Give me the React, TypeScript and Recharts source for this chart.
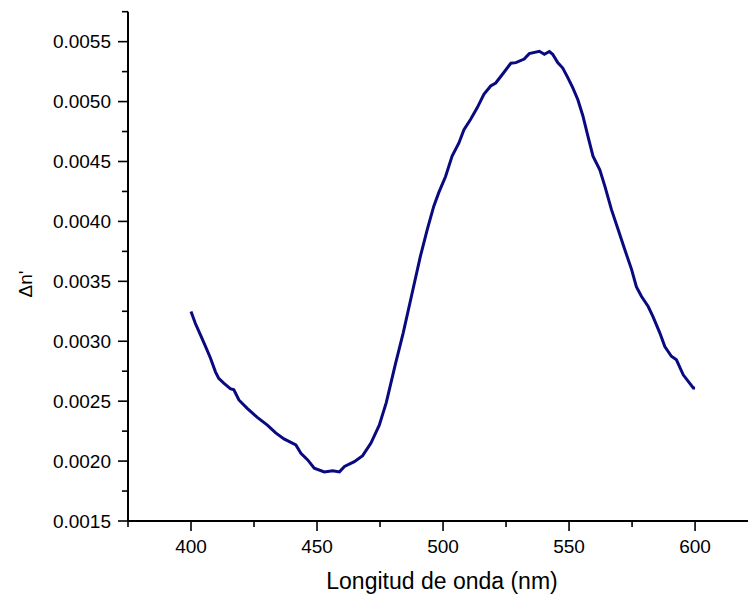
import React from 'react';
import { LineChart, Line, XAxis, YAxis } from 'recharts';

// longitud de onda (nm)
const wavelength = [
  400, 401.7, 403.7, 405.7, 407.7, 409.7, 411, 413, 415.6, 417, 419, 422.3, 426.3, 430.3,
  433.6, 436.9, 441.6, 443.6, 446.3, 448.9, 452.9, 456.2, 458.9, 460.9, 464.8, 468.1,
  471.4, 474.7, 477.5, 481, 484.2, 487.5, 491, 493.7, 496.3, 498.3, 501, 503.6, 506.3,
  508.3, 510.9, 513.6, 516.2, 518.9, 520.9, 524.2, 526.9, 528.9, 532.2, 534.2, 538.2,
  540.2, 542.2, 543.5, 545.5, 547.5, 549.5, 551.5, 553.5, 555.5, 557.5, 559.5, 562.2,
  564.2, 566.8, 569.5, 572.1, 574.8, 576.7, 578.7, 581.4, 583.3, 586, 588, 590.6, 592.6,
  595.3, 597.3, 599.3, 600,
];

// Δn'
const deltaN = [
  0.003248, 0.00315, 0.003055, 0.00296, 0.00286, 0.002745, 0.00269, 0.00265, 0.002605,
  0.002595, 0.00251, 0.00244, 0.002365, 0.0023, 0.002235, 0.002185, 0.002135, 0.002065,
  0.00201, 0.00194, 0.00191, 0.00192, 0.00191, 0.001955, 0.001995, 0.002045, 0.00215,
  0.0023, 0.00249, 0.0028, 0.00307, 0.00338, 0.003708, 0.00393, 0.004125, 0.00424,
  0.004375, 0.004545, 0.004655, 0.004765, 0.00485, 0.00495, 0.00506, 0.00513, 0.005155,
  0.005245, 0.00532, 0.005325, 0.005355, 0.0054, 0.00542, 0.005395, 0.005418, 0.005395,
  0.005325, 0.00528, 0.0052, 0.005115, 0.005015, 0.00488, 0.00471, 0.004545, 0.00443,
  0.004295, 0.0041, 0.00393, 0.003765, 0.0036, 0.003455, 0.003375, 0.00329, 0.003205,
  0.00307, 0.002955, 0.002875, 0.002845, 0.00272, 0.002665, 0.00261, 0.00261,
];

const xTicks = [375, 400, 425, 450, 475, 500, 525, 550, 575, 600];
const yTicks = [
  0.0015, 0.00175, 0.002, 0.00225, 0.0025, 0.00275, 0.003, 0.00325, 0.0035, 0.00375,
  0.004, 0.00425, 0.0045, 0.00475, 0.005, 0.00525, 0.0055, 0.00575,
];

const data = wavelength.map((w, i) => ({ w, v: deltaN[i] }));

const FONT = '"Liberation Sans", Arial, sans-serif';

const XTick = ({ x, y, payload }: any) => {
  const major = payload.value % 50 === 0;
  return (
    <g>
      <line x1={x} y1={y} x2={x} y2={y + (major ? 10 : 6)} stroke="#000" strokeWidth={1.6} />
      {major && (
        <text x={x} y={y + 32} textAnchor="middle" fontSize={19} fontFamily={FONT} fill="#000">
          {payload.value}
        </text>
      )}
    </g>
  );
};

const YTick = ({ x, y, payload }: any) => {
  const major = Math.round(payload.value * 4000) % 2 === 0;
  return (
    <g>
      <line x1={x} y1={y} x2={x - (major ? 10 : 6)} y2={y} stroke="#000" strokeWidth={1.6} />
      {major && (
        <text x={x - 17} y={y + 6.8} textAnchor="end" fontSize={19} fontFamily={FONT} fill="#000">
          {payload.value.toFixed(4)}
        </text>
      )}
    </g>
  );
};

const YLabel = () => (
  <text
    x={32}
    y={284}
    transform="rotate(-90, 32, 284)"
    textAnchor="middle"
    fontSize={19}
    fontFamily={FONT}
    fill="#000"
  >
    Δn'
  </text>
);

export default function App() {
  return (
    <div style={{ position: 'fixed', left: 0, top: 0, background: '#fff' }}>
      <LineChart width={749} height={596} data={data} margin={{ top: 11.7, right: 1, bottom: 0, left: 0 }}>
        <XAxis
          type="number"
          dataKey="w"
          domain={[375, 621]}
          ticks={xTicks}
          interval={0}
          tickSize={0}
          tickMargin={0}
          tickLine={false}
          height={75}
          axisLine={{ stroke: '#000', strokeWidth: 2 }}
          tick={<XTick />}
          label={{
            value: 'Longitud de onda (nm)',
            position: 'insideBottom',
            offset: 7,
            dx: 4,
            style: { fontSize: 23, fontFamily: FONT, fill: '#000' },
          }}
        />
        <YAxis
          type="number"
          domain={[0.0015, 0.00575]}
          ticks={yTicks}
          interval={0}
          width={128}
          tickSize={0}
          tickMargin={0}
          tickLine={false}
          axisLine={{ stroke: '#000', strokeWidth: 2 }}
          tick={<YTick />}
          label={<YLabel />}
        />
        <Line
          type="linear"
          dataKey="v"
          stroke="#0a0a80"
          strokeWidth={3}
          dot={false}
          isAnimationActive={false}
        />
      </LineChart>
    </div>
  );
}
